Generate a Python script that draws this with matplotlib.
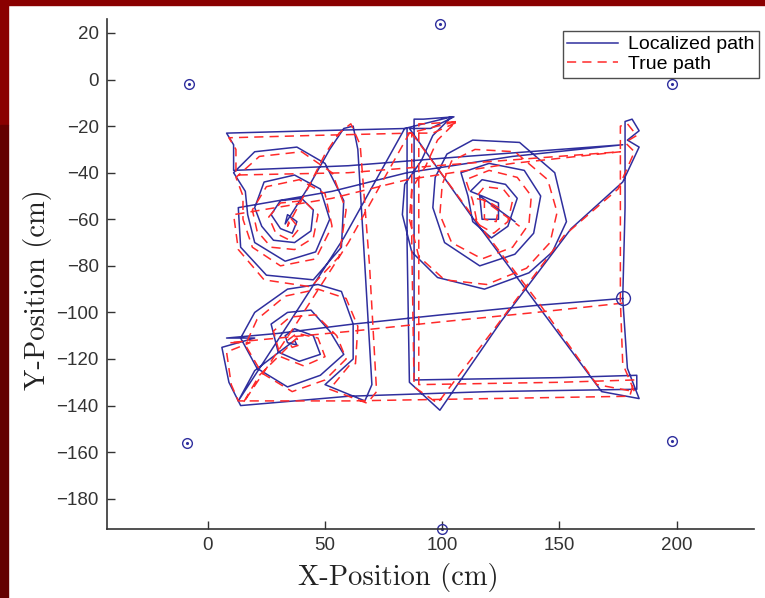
import matplotlib
matplotlib.use('Agg')
import matplotlib.pyplot as plt
from matplotlib.patches import Rectangle
import numpy as np

# localized (estimated) path, digitized in legs (x, y in cm)
loc_leg1 = [(177, -94), (140, -97), (100, -101), (62, -105), (30, -109), (8, -111), (20, -111), (6, -115),
            (9, -130), (14, -140), (60, -136), (120, -134), (183, -133), (183, -127), (150, -128), (88, -129)]
loc_leg2 = [(88, -129), (88, -75), (88, -17), (92, -17), (105, -16), (95, -21), (86, -21), (112, -58),
            (140, -96), (168, -134), (184, -137), (179, -124), (177, -94), (178, -55), (178, -18), (181, -17),
            (184, -22), (179, -26), (184, -29)]
loc_leg3 = [(184, -29), (177, -44), (155, -64), (125, -104), (99, -142), (86, -130), (85, -70), (85, -21),
            (45, -22), (8, -23), (11, -28), (11, -39), (60, -37), (110, -33), (177, -28), (130, -33), (85, -40),
            (53, -48), (13, -55)]
loc_leg4 = [(13, -55), (14, -72), (25, -84), (45, -86), (57, -72), (58, -52), (50, -36), (38, -29), (20, -31),
            (11, -40), (16, -48), (17, -58), (20, -70), (33, -78), (46, -74), (52, -60), (48, -47), (37, -41),
            (24, -44), (20, -55), (23, -63), (28, -69), (37, -70), (44, -65), (45, -56), (40, -51), (31, -52),
            (27, -58), (31, -64), (36, -66), (38, -61), (34, -58), (33, -62)]
loc_leg5 = [(33, -62), (43, -46), (52, -30), (58, -21), (62, -20), (64, -30), (67, -80), (70, -131),
            (67, -138), (50, -131), (62, -120)]
loc_leg6 = [(62, -120), (62, -105), (57, -91), (47, -88), (34, -90), (20, -100), (14, -111), (21, -124),
            (34, -132), (48, -127), (58, -118), (52, -108), (44, -99), (34, -100), (27, -105), (30, -117),
            (39, -121), (48, -118), (45, -110), (37, -107), (33, -110), (34, -113), (38, -114), (37, -112)]
loc_leg7 = [(37, -112), (20, -125), (13, -138), (35, -104), (58, -68), (84, -21), (104, -16), (96, -24), (91, -35)]
loc_leg8 = [(91, -35), (84, -45), (83, -58), (87, -74), (98, -85), (118, -90), (137, -83), (147, -74),
            (153, -61), (148, -40), (133, -27), (113, -26), (102, -32), (97, -42), (96, -55), (101, -70),
            (116, -80), (131, -75), (139, -66), (142, -50), (135, -39), (120, -36), (108, -40), (111, -50),
            (113, -61), (121, -68), (128, -63), (132, -51), (127, -45), (117, -43), (112, -48), (117, -50),
            (124, -53), (124, -60), (117, -60), (116, -50), (131, -61)]

# true path
true_leg1 = [(177, -96), (140, -100), (100, -104), (62, -108), (30, -111), (9, -113), (18, -113), (8, -117),
             (10, -131), (13, -138), (60, -138), (120, -137), (180, -136), (182, -129), (150, -130), (90, -131)]
true_leg2 = [(90, -131), (90, -75), (90, -19), (93, -19), (107, -18), (96, -23), (87, -23), (114, -60),
             (142, -97), (166, -131), (182, -134), (177, -122), (176, -95), (176, -55), (176, -20), (179, -19),
             (183, -24), (178, -27), (182, -31)]
true_leg3 = [(182, -31), (175, -47), (152, -67), (123, -106), (98, -139), (88, -132), (87, -70), (87, -23),
             (45, -24), (9, -25), (12, -30), (12, -41), (60, -40), (110, -36), (176, -31), (130, -36), (85, -43),
             (53, -51), (11, -58)]
true_leg4 = [(11, -58), (13, -73), (24, -86), (44, -89), (56, -76), (59, -56), (53, -40), (40, -31), (22, -33),
             (12, -42), (15, -50), (15, -60), (19, -72), (31, -80), (46, -77), (53, -63), (50, -49), (39, -43),
             (25, -46), (19, -56), (21, -65), (27, -72), (37, -73), (45, -68), (47, -58), (41, -52), (31, -53),
             (26, -59), (29, -66), (35, -69), (39, -64), (35, -59), (34, -63)]
true_leg5 = [(34, -63), (42, -48), (50, -32), (56, -23), (61, -19), (65, -28), (69, -80), (72, -134),
             (68, -139), (52, -133), (61, -122)]
true_leg6 = [(63, -122), (64, -106), (59, -94), (47, -90), (33, -93), (21, -103), (16, -114), (23, -126),
             (36, -134), (50, -129), (59, -120), (55, -110), (46, -101), (35, -102), (28, -108), (31, -119),
             (41, -123), (50, -119), (47, -111), (38, -109), (34, -112), (36, -115), (39, -114), (38, -111)]
true_leg7 = [(38, -111), (22, -127), (15, -139), (37, -106), (60, -70), (86, -23), (106, -18), (98, -26), (93, -37)]
true_leg8 = [(93, -37), (87, -47), (86, -60), (90, -76), (101, -86), (119, -88), (136, -81), (146, -70),
             (149, -57), (145, -43), (131, -31), (114, -30), (104, -35), (100, -45), (99, -58), (104, -70),
             (117, -77), (130, -72), (137, -62), (138, -50), (132, -42), (120, -39), (110, -43), (113, -52),
             (115, -62), (122, -66), (128, -61), (130, -52), (126, -47), (118, -46), (114, -51), (119, -52),
             (124, -55), (123, -61), (118, -60), (118, -52), (133, -63)]

landmark_x = [-8, 99, 198, -9, 198, 100]
landmark_y = [-2, 24, -2, -156, -155, -193]
start_x, start_y = 177, -94

loc = np.array(loc_leg1 + loc_leg2 + loc_leg3 + loc_leg4 + loc_leg5 + loc_leg6 + loc_leg7 + loc_leg8)
true = np.array(true_leg1 + true_leg2 + true_leg3 + true_leg4 + true_leg5 + true_leg6 + true_leg7 + true_leg8)

blue = '#2f2f9e'
red = '#ff2a2a'

fig = plt.figure(figsize=(7.65, 5.98), dpi=100, facecolor='white')
# dark red slide frame
fig.add_artist(Rectangle((0, 1 - 5 / 598), 1, 5 / 598, transform=fig.transFigure, color='#8a0000', zorder=0))
fig.add_artist(Rectangle((0, 1 - 125 / 598), 8 / 765, 125 / 598, transform=fig.transFigure, color='#8a0000', zorder=0))
fig.add_artist(Rectangle((0, 0), 8 / 765, 1 - 125 / 598, transform=fig.transFigure, color='#640000', zorder=0))

ax = fig.add_axes([0.1399, 0.1154, 0.8457, 0.8528])
ax.plot(loc[:, 0], loc[:, 1], '-', color=blue, lw=1.1, label='Localized path')
ax.plot(true[:, 0], true[:, 1], '--', color=red, lw=1.1, dashes=(6, 4), label='True path')
ax.plot(landmark_x, landmark_y, 'o', mfc='none', mec=blue, ms=7, mew=1.0, clip_on=False)
ax.plot(landmark_x, landmark_y, '.', color=blue, ms=2.5, clip_on=False)
ax.plot([start_x], [start_y], 'o', mfc='none', mec=blue, ms=10, mew=1.0)

ax.set_xlim(-43, 233)
ax.set_ylim(-193, 26)
ax.set_xticks([0, 50, 100, 150, 200])
ax.set_yticks(np.arange(-180, 21, 20))
for s in ['top', 'right']:
    ax.spines[s].set_visible(False)
for s in ['left', 'bottom']:
    ax.spines[s].set_color('#333333')
    ax.spines[s].set_linewidth(1.2)
ax.tick_params(direction='in', length=6, width=1, colors='#333333', labelsize=13.5, pad=6)
for lab in ax.get_xticklabels() + ax.get_yticklabels():
    lab.set_fontfamily('Liberation Sans')

ax.set_xlabel('X-Position (cm)', fontfamily='cmr10', fontsize=20.5, color='#222222')
ax.set_ylabel('Y-Position (cm)', fontfamily='cmr10', fontsize=20.5, color='#222222')
ax.xaxis.set_label_coords((398 - 107) / 647, -(578 - 529) / 510, transform=ax.transAxes)
ax.yaxis.set_label_coords(-(107 - 37) / 647, (529 - 290) / 510, transform=ax.transAxes)
ax.xaxis.label.set_va('center')
ax.yaxis.label.set_va('center')

leg = ax.legend(loc='upper right', bbox_to_anchor=(1.0077, 0.9765), prop={'family': 'Liberation Sans', 'size': 14},
                frameon=True, fancybox=False, handlelength=2.6, handletextpad=0.5, borderpad=0.25,
                labelspacing=0.1, borderaxespad=0)
leg.get_frame().set_edgecolor('#222222')
leg.get_frame().set_linewidth(1.0)

fig.savefig('out.png', dpi=100, facecolor=fig.get_facecolor())
